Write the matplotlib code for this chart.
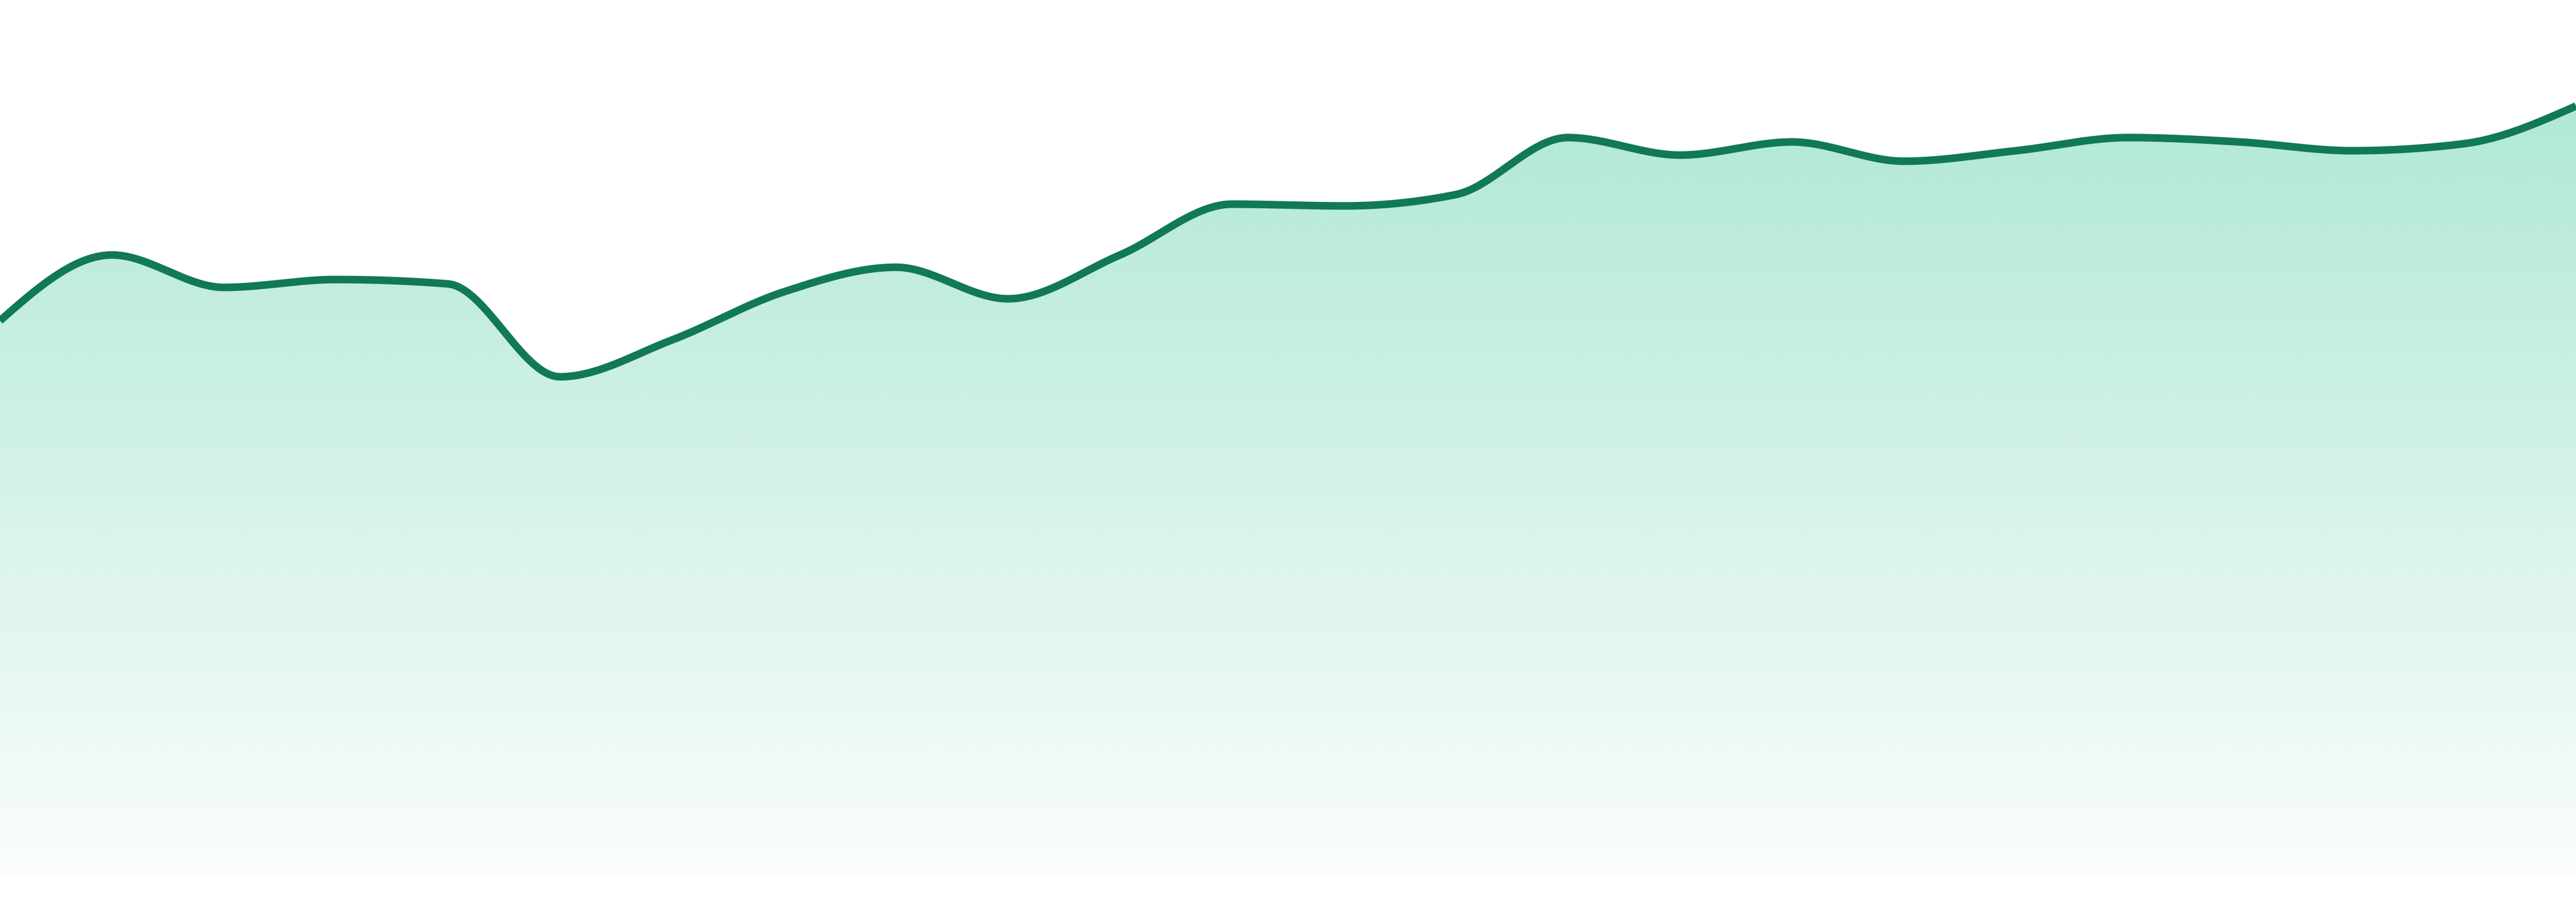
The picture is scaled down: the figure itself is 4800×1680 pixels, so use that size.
import numpy as np
import matplotlib
matplotlib.use("Agg")
import matplotlib.pyplot as plt
from matplotlib.patches import Polygon

# one value per point, evenly spaced across the width
points = list(range(24))
values = [63.4, 70.9, 67.2, 68.1, 67.6, 57.0, 61.2, 66.7, 69.5, 65.9, 70.9, 76.7,
          76.5, 77.8, 84.3, 82.3, 83.8, 81.6, 82.8, 84.3, 83.8, 82.8, 83.6, 87.9]

line_color = "#117a52"
fill_color = np.array([16, 185, 129]) / 255.0


def monotone_x(x, y, n=40):
    """Monotone cubic curve through the points (same idea as d3 curveMonotoneX)."""
    x = np.asarray(x, float)
    y = np.asarray(y, float)
    h = np.diff(x)
    s = np.diff(y) / h
    t = np.zeros_like(y)
    for i in range(1, len(y) - 1):
        p = (s[i - 1] * h[i] + s[i] * h[i - 1]) / (h[i - 1] + h[i])
        t[i] = (np.sign(s[i - 1]) + np.sign(s[i])) * min(abs(s[i - 1]), abs(s[i]), 0.5 * abs(p))
    t[0] = (3 * s[0] - t[1]) / 2
    t[-1] = (3 * s[-1] - t[-2]) / 2
    xs, ys = [], []
    for i in range(len(x) - 1):
        u = np.linspace(0, 1, n, endpoint=False)
        x0, x1, y0, y1 = x[i], x[i + 1], y[i], y[i + 1]
        d = h[i]
        # bezier control points
        c1 = y0 + d / 3 * t[i]
        c2 = y1 - d / 3 * t[i + 1]
        xs.append(x0 + u * d)
        ys.append((1 - u) ** 3 * y0 + 3 * (1 - u) ** 2 * u * c1 + 3 * (1 - u) * u ** 2 * c2 + u ** 3 * y1)
    xs.append([x[-1]])
    ys.append([y[-1]])
    return np.concatenate(xs), np.concatenate(ys)


fig = plt.figure(figsize=(16, 5.6), dpi=300)
ax = fig.add_axes([0, 48 / 1680, 1, 1 - 48 / 1680])
ax.set_xlim(points[0], points[-1])
ax.set_ylim(0, 100)
ax.axis("off")

cx, cy = monotone_x(points, values)

# gradient fill under the curve
top = max(values)
grad = np.zeros((256, 2, 4))
alpha = np.linspace(0.33, 0.02, 256)
grad[:, :, :3] = fill_color
grad[:, :, 3] = alpha[:, None]
img = ax.imshow(grad, extent=[points[0], points[-1], 0, top], aspect="auto",
                origin="upper", interpolation="bilinear", zorder=1)
poly = Polygon(np.column_stack([np.r_[cx, cx[-1], cx[0]], np.r_[cy, 0, 0]]),
               closed=True, facecolor="none", edgecolor="none")
ax.add_patch(poly)
img.set_clip_path(poly)

ax.plot(cx, cy, color=line_color, lw=3.4, solid_capstyle="butt", zorder=3)

fig.savefig("out.png", dpi=300)
